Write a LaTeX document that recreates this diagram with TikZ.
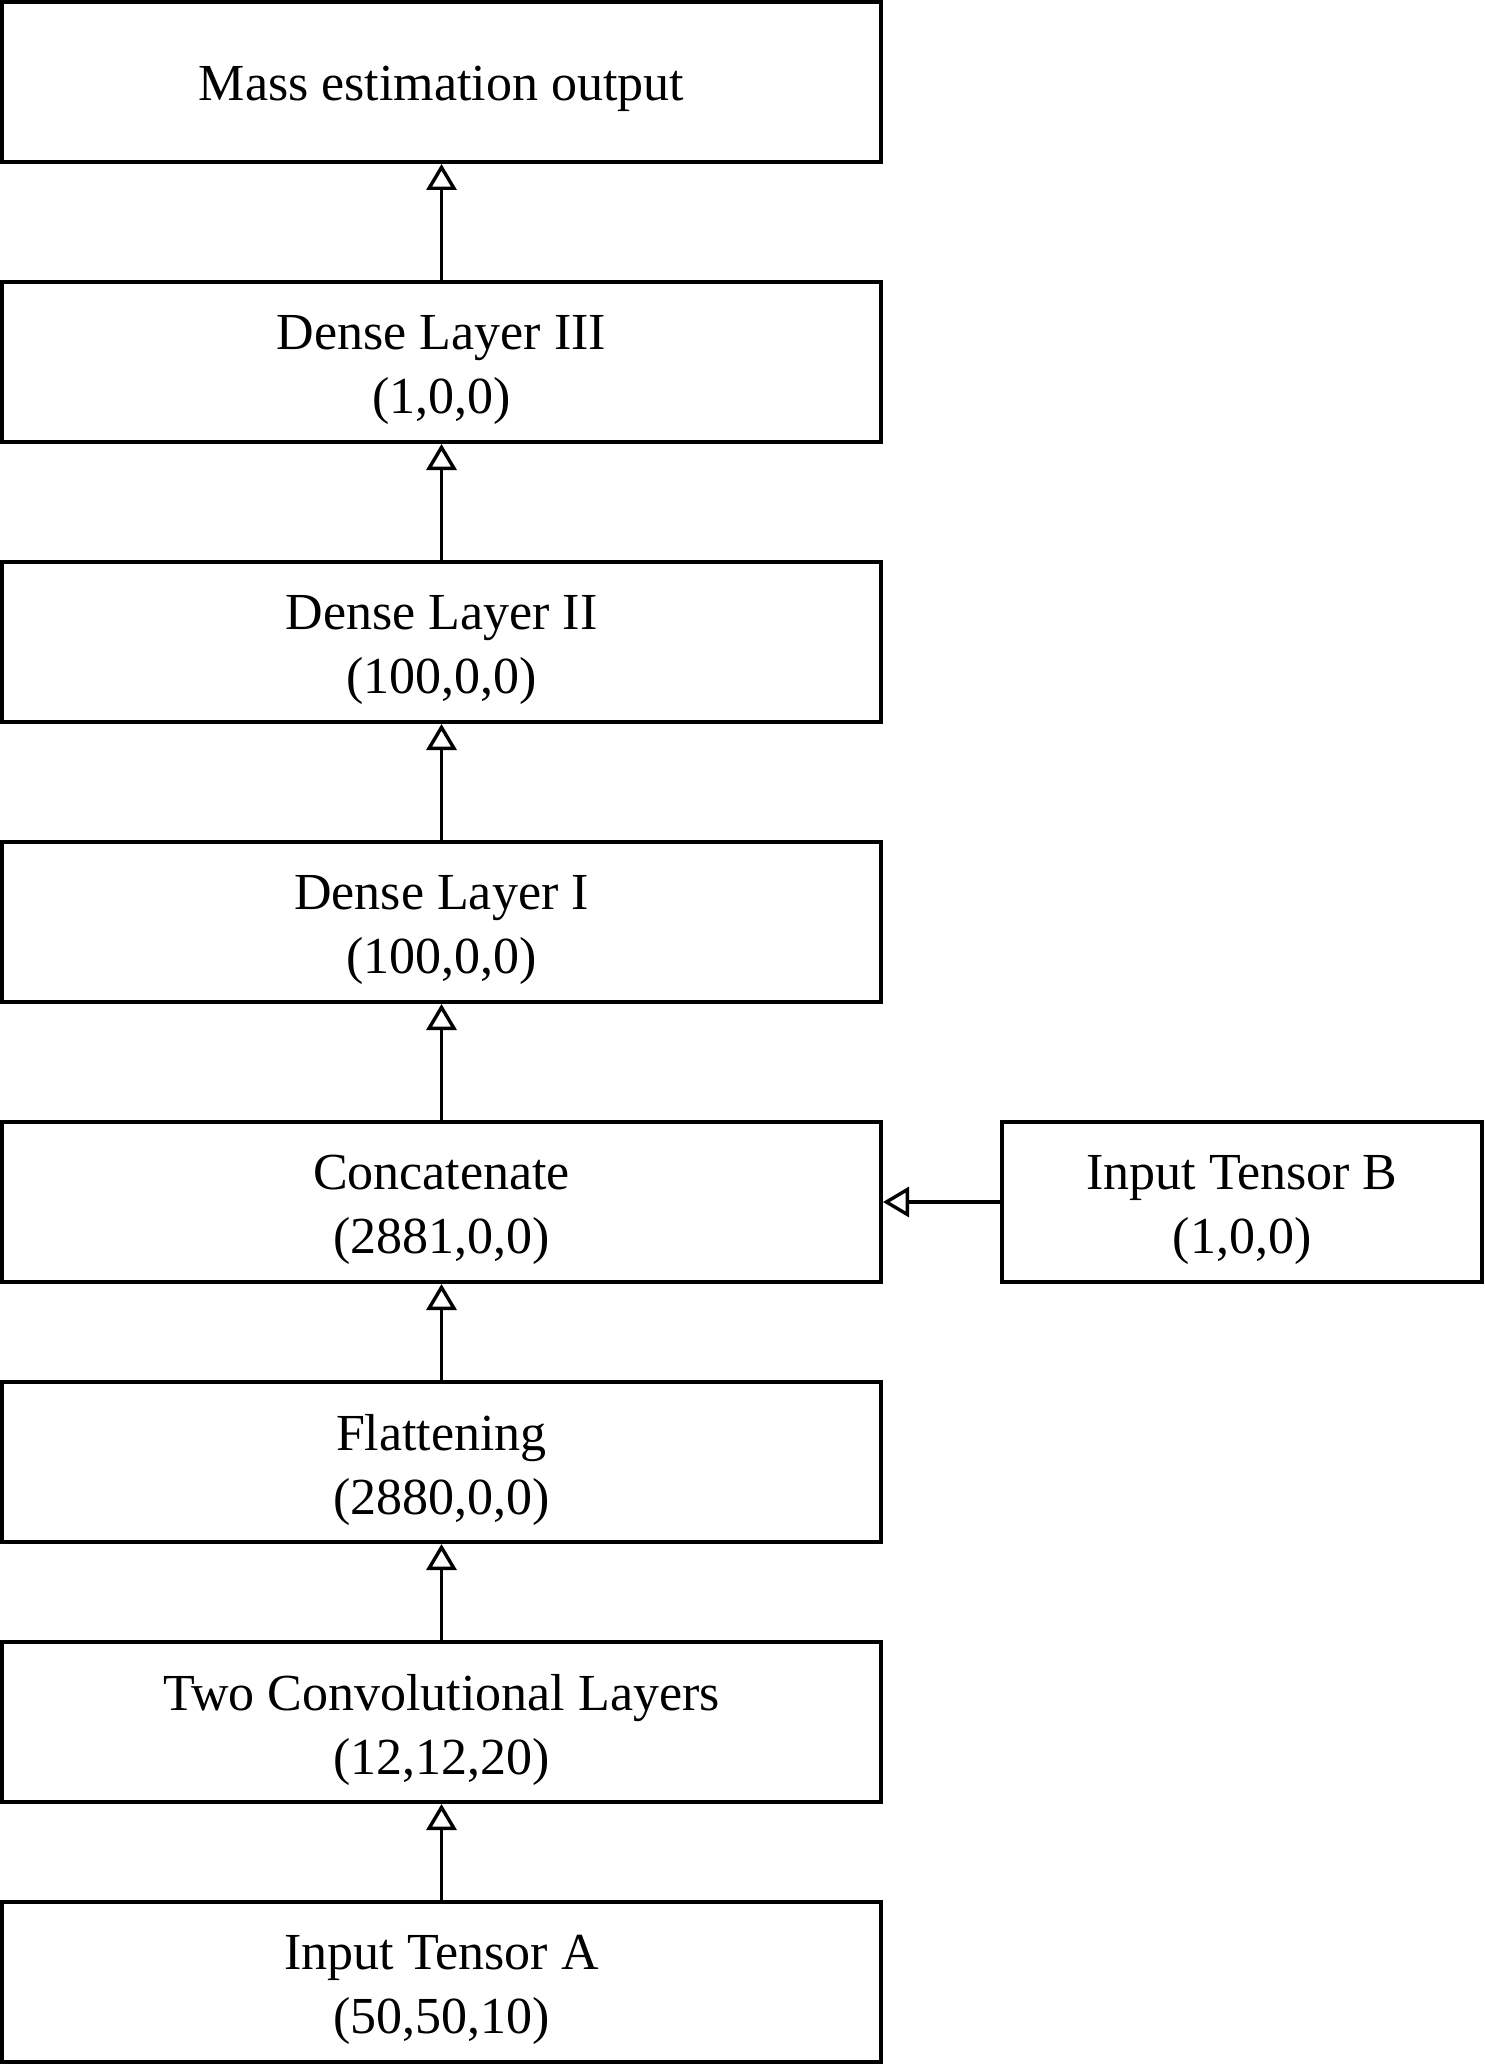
\documentclass[tikz,border=0pt]{standalone}
\usepackage{fontspec}
\setmainfont{Liberation Serif}
\usetikzlibrary{arrows.meta}
\begin{document}
\begin{tikzpicture}[x=0.5pt,y=-0.5pt,
  layerbox/.style={draw=black, line width=2pt, fill=white, minimum width=439.5pt, minimum height=80pt, inner sep=0pt},
  inbox/.style={layerbox, minimum width=240pt},
  txt/.style={align=center, inner sep=0pt, font=\fontsize{26}{32}\selectfont},
  flow/.style={line width=1.7pt, -{Triangle[open, length=13pt, width=15pt]}}]
\useasboundingbox (0,0) rectangle (1484,2064);
\node[layerbox, label={[txt, yshift=-3.5pt]center:Mass estimation output}] (mass) at (441.5,82) {};
\node[layerbox, label={[txt, yshift=-4pt]center:Dense Layer III\\(1,0,0)}] (d3) at (441.5,362) {};
\node[layerbox, label={[txt, yshift=-4pt]center:Dense Layer II\\(100,0,0)}] (d2) at (441.5,642) {};
\node[layerbox, label={[txt, yshift=-4pt]center:Dense Layer I\\(100,0,0)}] (d1) at (441.5,922) {};
\node[layerbox, label={[txt, yshift=-4pt]center:Concatenate\\(2881,0,0)}] (cat) at (441.5,1202) {};
\node[layerbox, label={[txt, yshift=-4pt]center:Flattening\\(2880,0,0)}] (flat) at (441.5,1462) {};
\node[layerbox, label={[txt, yshift=-4pt]center:Two Convolutional Layers\\(12,12,20)}] (conv) at (441.5,1722) {};
\node[layerbox, label={[txt, yshift=-4pt]center:Input Tensor A\\(50,50,10)}] (ina) at (441.5,1982) {};
\node[inbox, label={[txt, yshift=-4pt]center:Input Tensor B\\(1,0,0)}] (inb) at (1242,1202) {};
\draw[flow] (ina) -- (conv);
\draw[flow] (conv) -- (flat);
\draw[flow] (flat) -- (cat);
\draw[flow] (cat) -- (d1);
\draw[flow] (d1) -- (d2);
\draw[flow] (d2) -- (d3);
\draw[flow] (d3) -- (mass);
\draw[flow] (inb) -- (cat);
\end{tikzpicture}
\end{document}
